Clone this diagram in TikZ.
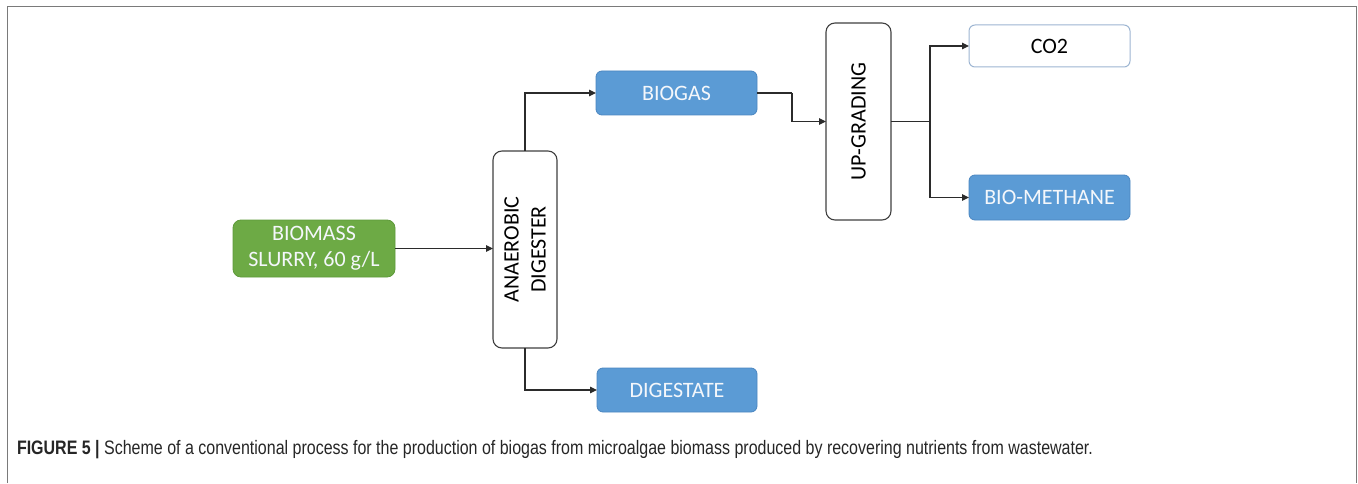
\documentclass[tikz,border=0pt]{standalone}
\usepackage{fontspec}
\usepackage{graphicx}
\setmainfont{Carlito}
\newfontfamily\capfont{Liberation Sans}
\usetikzlibrary{arrows.meta}
\definecolor{boxblue}{HTML}{5B9BD5}
\definecolor{boxblueborder}{HTML}{4A85C0}
\definecolor{boxgreen}{HTML}{6DAA45}
\definecolor{boxgreenborder}{HTML}{5E9A3A}
\definecolor{lightborder}{HTML}{9DB5D2}
\definecolor{txtwhite}{HTML}{F4F7FB}
\definecolor{linegray}{HTML}{2B2B2B}
\definecolor{framegray}{HTML}{7A7A7A}
\begin{document}
\begin{tikzpicture}[x=1pt,y=1pt,
  every node/.style={inner sep=0pt,outer sep=0pt},
  bluebox/.style={draw=boxblueborder,fill=boxblue,line width=0.8pt,rounded corners=6pt,
    text=txtwhite,font=\fontsize{22}{27}\selectfont,align=center},
  greenbox/.style={draw=boxgreenborder,fill=boxgreen,line width=0.8pt,rounded corners=8pt,
    text=txtwhite,font=\fontsize{22}{26}\selectfont,align=center},
  whitebox/.style={draw=lightborder,fill=white,line width=1pt,rounded corners=6pt,
    text=black,font=\fontsize{22}{27}\selectfont,align=center},
  vessel/.style={draw=linegray!90,fill=white,line width=1.1pt,rounded corners=9pt},
  vtext/.style={rotate=90,font=\fontsize{22}{27}\selectfont,align=center,text=black},
  flow/.style={draw=linegray,line width=1.1pt,-{Triangle[length=7pt,width=6.5pt]}},
  flowline/.style={draw=linegray,line width=1.1pt}
]
\useasboundingbox (0,0) rectangle (1358,483);
% frame
\draw[framegray,line width=1.6pt] (7.5,0) -- (7.5,476.5) -- (1356.5,476.5) -- (1356.5,0);

% nodes
\node[greenbox,minimum width=162pt,minimum height=57pt] (biomass) at (314,234.5) {BIOMASS\\SLURRY, 60 g/L};
\node[vessel,minimum width=64pt,minimum height=197pt] (dig) at (525,233.5) {};
\node[vtext] (digtext) at (dig.center) {ANAEROBIC\\DIGESTER};
\node[bluebox,minimum width=161pt,minimum height=44pt] (biogas) at (676.5,390) {BIOGAS};
\node[bluebox,minimum width=160pt,minimum height=44pt] (digestate) at (677,93) {DIGESTATE};
\node[vessel,minimum width=65pt,minimum height=197pt] (upg) at (858.5,361.5) {};
\node[vtext] (upgtext) at (upg.center) {UP-GRADING};
\node[whitebox,minimum width=161pt,minimum height=42pt] (co2) at (1049.5,437) {CO2};
\node[bluebox,minimum width=161pt,minimum height=45pt] (bm) at (1049.5,285.5) {BIO-METHANE};

\coordinate (bend) at (792,390);
\coordinate (split) at (930,361.5);

% connectors
\draw[flow] (biomass.east) -- (biomass.east -| dig.west);
\draw[flow] (dig.north) |- (biogas.west);
\draw[flow] (dig.south) |- (digestate.west);
\draw[flowline] (biogas.east) -- (bend);
\draw[flow] (bend) |- (upg.west);
\draw[flowline] (upg.east) -- (split);
\draw[flow] (split) |- (co2.west);
\draw[flow] (split) |- (bm.west);

% caption
\node[anchor=base west,text=black!85] (caption) at (17,29)
  {\resizebox{1076pt}{\height}{\capfont\fontsize{19.5}{22}\selectfont\textbf{FIGURE 5 |} Scheme of a conventional process for the production of biogas from microalgae biomass produced by recovering nutrients from wastewater.}};
\end{tikzpicture}
\end{document}
